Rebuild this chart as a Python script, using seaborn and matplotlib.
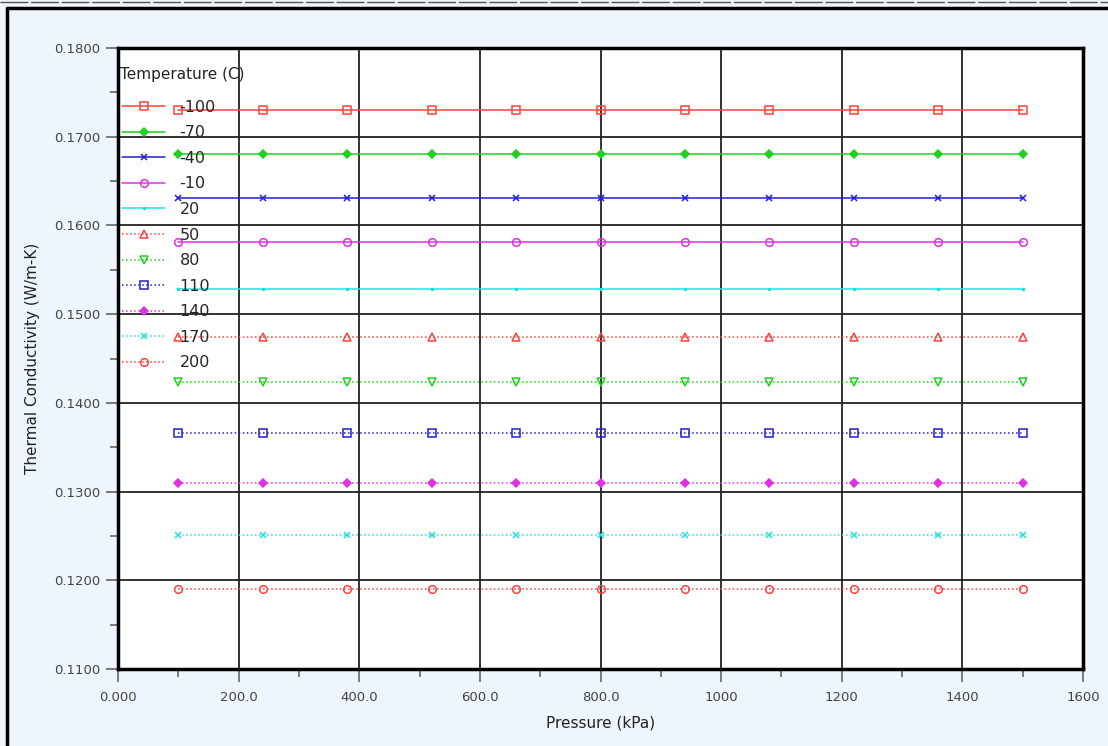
import numpy as np
import pandas as pd
import matplotlib
matplotlib.use("Agg")
import matplotlib.pyplot as plt
import seaborn as sns
from matplotlib.ticker import MultipleLocator, FuncFormatter
from matplotlib.lines import Line2D

pressures = [100, 240, 380, 520, 660, 800, 940, 1080, 1220, 1360, 1500]
temperatures = ["-100", "-70", "-40", "-10", "20", "50", "80", "110", "140", "170", "200"]
conductivity = [0.1730, 0.1681, 0.1631, 0.1581, 0.1528, 0.1474, 0.1423, 0.1366, 0.1310, 0.1251, 0.1190]
x_tick_labels = ["0.000", "200.0", "400.0", "600.0", "800.0", "1000", "1200", "1400", "1600"]

colors = ["#ff4040", "#20d020", "#2020d0", "#e030e0", "#20e0e0",
          "#ff4040", "#20d020", "#2020d0", "#e030e0", "#20e0e0", "#ff4040"]
markers = ["s", "D", "x", "o", ".", "^", "v", "s", "D", "x", "o"]
msizes = [5.5, 4, 5, 5.5, 3, 5.5, 5.5, 5.5, 4, 5, 5.5]
mfilled = [False, True, True, False, True, False, False, False, True, True, False]
styles = ["-", "-", "-", "-", "-", ":", ":", ":", ":", ":", ":"]

rows = []
for t, k in zip(temperatures, conductivity):
    for p in pressures:
        rows.append({"Pressure": p, "k": k, "T": t})
df = pd.DataFrame(rows)

sns.set_style("white")
plt.rcParams['font.family'] = ['DejaVu Sans']

fig = plt.figure(figsize=(11.08, 7.46), dpi=100)
fig.patch.set_facecolor("#eef5fc")
ax = fig.add_axes([118/1108, 1-669/746, (1083-118)/1108, (669-48)/746])
ax.set_facecolor("white")

handles = []
for i, t in enumerate(temperatures):
    sub = df[df["T"] == t]
    style_kw = dict(color=colors[i], linestyle=styles[i], linewidth=1.1,
                    marker=markers[i], markersize=msizes[i],
                    markerfacecolor=colors[i] if mfilled[i] else "none",
                    markeredgecolor=colors[i], markeredgewidth=1.1)
    sns.lineplot(data=sub, x="Pressure", y="k", ax=ax, legend=False,
                 errorbar=None, **style_kw)
    handles.append(Line2D([], [], label=t, **style_kw))

ax.set_xlim(0, 1600)
ax.set_ylim(0.11, 0.18)
ax.xaxis.set_minor_locator(MultipleLocator(100))
ax.yaxis.set_major_locator(MultipleLocator(0.01))
ax.yaxis.set_minor_locator(MultipleLocator(0.005))
ax.set_xticks(np.arange(0, 1601, 200))
ax.set_xticklabels(x_tick_labels)
ax.yaxis.set_major_formatter(FuncFormatter(lambda v, p: f"{v:.4f}"))

ax.grid(True, which="major", color="#222222", linewidth=1.3)
ax.set_axisbelow(True)
for s in ax.spines.values():
    s.set_visible(True)
    s.set_color("black")
    s.set_linewidth(2.5)

ax.tick_params(axis="both", which="both", bottom=True, left=True, top=False, right=False)
ax.tick_params(axis="both", which="major", direction="out", length=9, width=1.2,
               color="#666666", labelsize=9.5, labelcolor="#444444", pad=4)
ax.tick_params(axis="both", which="minor", direction="out", length=6, width=1.2,
               color="#666666")
ax.tick_params(axis="x", which="major", pad=7)

ax.set_xlabel("Pressure (kPa)", fontsize=11, color="#222222", labelpad=8)
ax.set_ylabel("Thermal Conductivity (W/m-K)", fontsize=11, color="#222222", labelpad=10)

# legend title as separate text, entries below
ax.text(2/965, 1-(75-48)/621, "Temperature (C)", transform=ax.transAxes,
        ha="left", va="center", fontsize=11, color="#222222")
leg = ax.legend(handles=handles, loc="upper left",
                bbox_to_anchor=(-0.0075, 0.9345), frameon=False, fontsize=11.5,
                handlelength=2.7, handletextpad=0.9,
                labelspacing=0.66, borderpad=0.2)

# figure frame lines (left and top)
fig.add_artist(Line2D([7/1108, 7/1108], [0, 1-8/746], transform=fig.transFigure,
                      color="black", linewidth=2.5))
fig.add_artist(Line2D([7/1108, 1], [1-8/746, 1-8/746], transform=fig.transFigure,
                      color="black", linewidth=2.5))
fig.add_artist(Line2D([0, 1], [1-2/746, 1-2/746], transform=fig.transFigure,
                      color="#555555", linewidth=1.0, linestyle=(0, (20, 2))))

fig.savefig("out.png", dpi=100, facecolor=fig.get_facecolor())
